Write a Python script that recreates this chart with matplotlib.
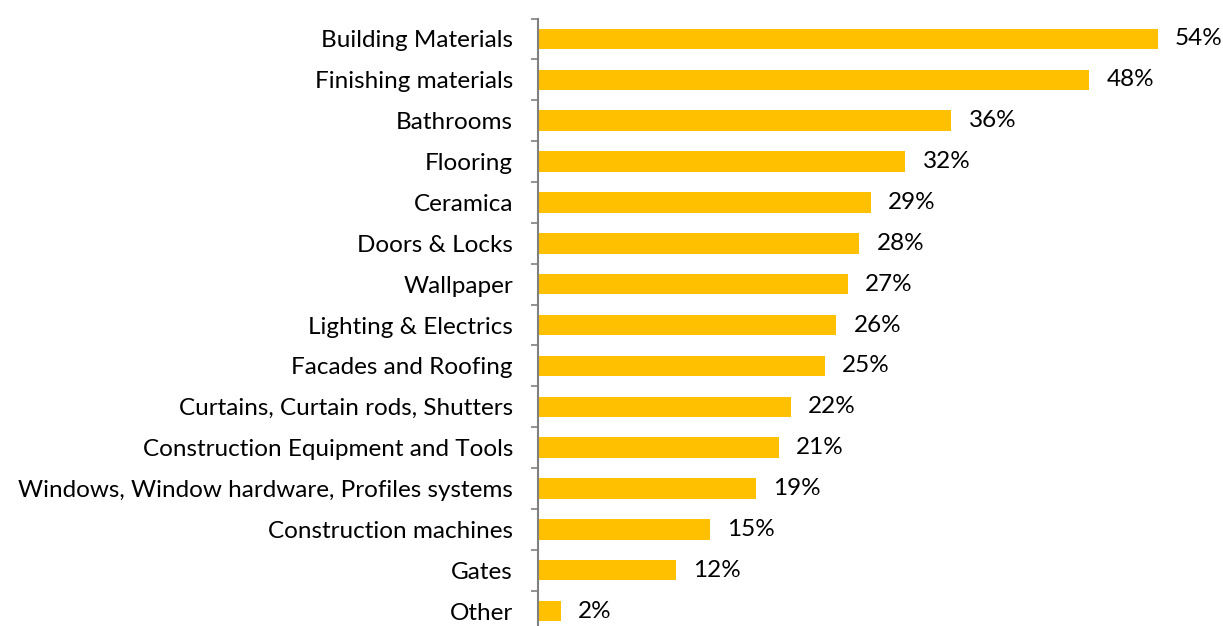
import numpy as np
import matplotlib.pyplot as plt

categories = ['Building Materials', 'Finishing materials', 'Bathrooms', 'Flooring',
              'Ceramica', 'Doors & Locks', 'Wallpaper', 'Lighting & Electrics',
              'Facades and Roofing', 'Curtains, Curtain rods, Shutters',
              'Construction Equipment and Tools',
              'Windows, Window hardware, Profiles systems',
              'Construction machines', 'Gates', 'Other']
values = [54, 48, 36, 32, 29, 28, 27, 26, 25, 22, 21, 19, 15, 12, 2]

plt.rcParams['font.family'] = ['Lato', 'DejaVu Sans']

fig = plt.figure(figsize=(12.23, 6.26), dpi=100)
ax = fig.add_axes([0.4399, -0.0088, 0.5601, 0.9792])

y = np.arange(len(categories))
ax.barh(y, values, height=0.5, color='#FFC000')
for yi, v in zip(y, values):
    ax.text(v + 1.5, yi, '%d%%' % v, va='center', ha='left', fontsize=17.5)

ax.set_ylim(len(categories) - 0.5, -0.5)
ax.set_xlim(0, 59.67)
ax.set_yticks(y)
ax.set_yticklabels(categories, fontsize=17.5)
ax.set_yticks(np.arange(-0.5, len(categories), 1), minor=True)
ax.tick_params(axis='y', which='major', length=0, pad=18)
ax.tick_params(axis='y', which='minor', length=5, width=1.2, color='#808080', direction='out')
ax.set_xticks([])
for s in ['top', 'right', 'bottom']:
    ax.spines[s].set_visible(False)
ax.spines['left'].set_color('#808080')
ax.spines['left'].set_linewidth(1.5)

fig.savefig('out.png', dpi=100)
